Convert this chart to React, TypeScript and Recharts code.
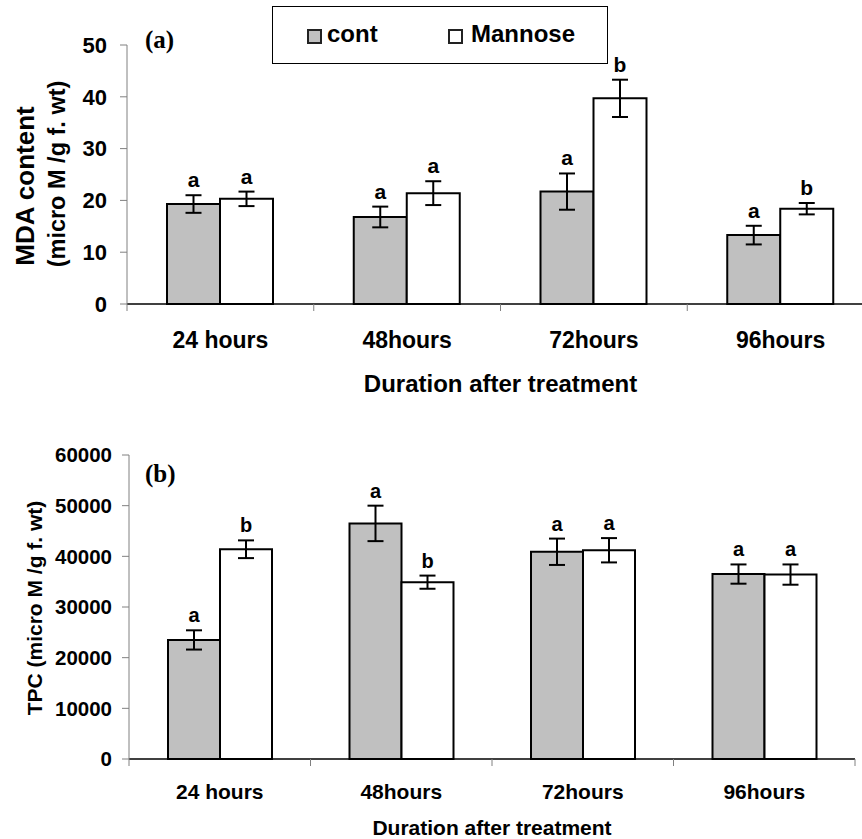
import React from "react"
import { BarChart, Bar, XAxis, YAxis, ErrorBar, LabelList, Label, Legend } from "recharts"

const categories = ["24 hours", "48hours", "72hours", "96hours"]

// (a) MDA content
const mdaCont = [19.3, 16.8, 21.7, 13.3]
const mdaContErr = [1.7, 2.0, 3.5, 1.8]
const mdaContSig = ["a", "a", "a", "a"]
const mdaMannose = [20.3, 21.4, 39.7, 18.4]
const mdaMannoseErr = [1.4, 2.3, 3.6, 1.1]
const mdaMannoseSig = ["a", "a", "b", "b"]
const mdaTicks = [0, 10, 20, 30, 40, 50]

// (b) TPC
const tpcCont = [23500, 46500, 40900, 36500]
const tpcContErr = [1900, 3500, 2600, 1900]
const tpcContSig = ["a", "a", "a", "a"]
const tpcMannose = [41400, 34900, 41200, 36400]
const tpcMannoseErr = [1750, 1300, 2400, 2000]
const tpcMannoseSig = ["b", "b", "a", "a"]
const tpcTicks = [0, 10000, 20000, 30000, 40000, 50000, 60000]

const FONT = '"Liberation Sans", Arial, sans-serif'
const SERIF = '"Liberation Serif", "Times New Roman", serif'
const GREY = "#c0c0c0"

function buildRows(
  cont: number[], contErr: number[], contSig: string[],
  mannose: number[], mannoseErr: number[], mannoseSig: string[]
) {
  return categories.map((name, i) => ({
    name,
    cont: cont[i],
    contErr: contErr[i],
    contSig: contSig[i],
    mannose: mannose[i],
    mannoseErr: mannoseErr[i],
    mannoseSig: mannoseSig[i],
  }))
}

const mdaData = buildRows(mdaCont, mdaContErr, mdaContSig, mdaMannose, mdaMannoseErr, mdaMannoseSig)
const tpcData = buildRows(tpcCont, tpcContErr, tpcContSig, tpcMannose, tpcMannoseErr, tpcMannoseSig)

// letter sits just above the error bar cap
function sigLabel(values: number[], errs: number[], fontSize: number) {
  return (props: any) => {
    const { x, y, width, height, value, index } = props
    const pxPerUnit = Number(height) / values[index]
    const top = Number(y) - errs[index] * pxPerUnit
    return (
      <text
        key={`sig-${index}`}
        x={Number(x) + Number(width) / 2}
        y={top - 8}
        textAnchor="middle"
        fontFamily={FONT}
        fontWeight="bold"
        fontSize={fontSize}
        fill="#000"
      >
        {value}
      </text>
    )
  }
}

// category label at the band centre, tick marks at the band edges
function categoryTick(band: number, fontSize: number, dy: number) {
  return (props: any) => {
    const { x, y, payload, index } = props
    const last = index === categories.length - 1
    return (
      <g>
        <line x1={x - band / 2} x2={x - band / 2} y1={y} y2={y + 7} stroke="#808080" />
        {last && <line x1={x + band / 2} x2={x + band / 2} y1={y} y2={y + 7} stroke="#808080" />}
        <text
          x={x}
          y={y + dy}
          textAnchor="middle"
          dominantBaseline="central"
          fontFamily={FONT}
          fontWeight="bold"
          fontSize={fontSize}
          fill="#000"
        >
          {payload.value}
        </text>
      </g>
    )
  }
}

function axisTitle(text: string, dy: number, fontSize: number) {
  return (props: any) => {
    const vb = props.viewBox || {}
    return (
      <text
        x={vb.x + vb.width / 2}
        y={vb.y + dy}
        textAnchor="middle"
        dominantBaseline="central"
        fontFamily={FONT}
        fontWeight="bold"
        fontSize={fontSize}
        fill="#000"
      >
        {text}
      </text>
    )
  }
}

function LegendBox() {
  const sq = (fill: string, left: number) => (
    <div
      style={{
        position: "absolute", left, top: 22, width: 15, height: 15,
        boxSizing: "border-box", border: "2px solid #222", background: fill,
      }}
    />
  )
  const txt = (label: string, left: number) => (
    <div
      style={{
        position: "absolute", left, top: 12, fontFamily: FONT, fontWeight: "bold",
        fontSize: 24, lineHeight: "30px", color: "#000",
      }}
    >
      {label}
    </div>
  )
  return (
    <div
      style={{
        position: "relative", width: 336, height: 58, boxSizing: "border-box",
        border: "1.5px solid #000", background: "#fff",
      }}
    >
      {sq(GREY, 34)}
      {txt("cont", 54)}
      {sq("#fff", 175)}
      {txt("Mannose", 198)}
    </div>
  )
}

const rotText = (text: string, cx: number, cy: number, size: number) => (
  <text
    x={cx}
    y={cy}
    transform={`rotate(-90, ${cx}, ${cy})`}
    textAnchor="middle"
    dominantBaseline="central"
    fontFamily={FONT}
    fontWeight="bold"
    fontSize={size}
    fill="#000"
  >
    {text}
  </text>
)

export default function App() {
  return (
    <div style={{ position: "absolute", left: 0, top: 0, width: 862, height: 839, background: "#fff", overflow: "hidden" }}>
      {/* (a) */}
      <div style={{ position: "absolute", left: 0, top: 0, width: 862, height: 400, overflow: "hidden" }}>
        <BarChart
          width={880}
          height={400}
          data={mdaData}
          margin={{ top: 45, right: 6, bottom: 0, left: 0 }}
          barGap={0}
        >
          <XAxis
            dataKey="name"
            height={96}
            interval={0}
            tickLine={false}
            tickSize={0}
            tickMargin={0}
            axisLine={{ stroke: "#000", strokeWidth: 1.5 }}
            tick={categoryTick(186.75, 23, 36)}
          >
            <Label content={axisTitle("Duration after treatment", 79, 24)} />
          </XAxis>
          <YAxis
            width={127}
            domain={[0, 50]}
            ticks={mdaTicks}
            interval={0}
            stroke="#808080"
            tickSize={7}
            tickMargin={13}
            tick={{ fill: "#000", fontSize: 22, fontWeight: "bold", fontFamily: FONT }}
          >
            <Label
              content={() => (
                <g>
                  {rotText("MDA content", 25, 186, 26)}
                  {rotText("(micro M /g f. wt)", 57, 174, 23.5)}
                  <text x={145} y={48} fontFamily={SERIF} fontWeight="bold" fontSize={25} fill="#000">(a)</text>
                </g>
              )}
            />
          </YAxis>
          <Legend
            layout="vertical"
            align="center"
            verticalAlign="middle"
            wrapperStyle={{ left: 272, top: 6, width: 336, height: 58 }}
            content={() => <LegendBox />}
          />
          <Bar dataKey="cont" name="cont" fill={GREY} stroke="#000" strokeWidth={2} barSize={53} isAnimationActive={false}>
            <ErrorBar dataKey="contErr" direction="y" width={8} stroke="#000" strokeWidth={2} isAnimationActive={false} />
            <LabelList dataKey="contSig" content={sigLabel(mdaCont, mdaContErr, 21)} />
          </Bar>
          <Bar dataKey="mannose" name="Mannose" fill="#fff" stroke="#000" strokeWidth={2} barSize={53} isAnimationActive={false}>
            <ErrorBar dataKey="mannoseErr" direction="y" width={8} stroke="#000" strokeWidth={2} isAnimationActive={false} />
            <LabelList dataKey="mannoseSig" content={sigLabel(mdaMannose, mdaMannoseErr, 21)} />
          </Bar>
        </BarChart>
      </div>

      {/* (b) */}
      <div style={{ position: "absolute", left: 0, top: 400, width: 862, height: 439, overflow: "hidden" }}>
        <BarChart
          width={862}
          height={439}
          data={tpcData}
          margin={{ top: 55, right: 7, bottom: 0, left: 0 }}
          barGap={0}
        >
          <XAxis
            dataKey="name"
            height={80}
            interval={0}
            tickLine={false}
            tickSize={0}
            tickMargin={0}
            axisLine={{ stroke: "#000", strokeWidth: 1.5 }}
            tick={categoryTick(181.5, 21, 32)}
          >
            <Label content={axisTitle("Duration after treatment", 68, 21)} />
          </XAxis>
          <YAxis
            width={129}
            domain={[0, 60000]}
            ticks={tpcTicks}
            interval={0}
            stroke="#808080"
            tickSize={7}
            tickMargin={10}
            tick={{ fill: "#000", fontSize: 20.5, fontWeight: "bold", fontFamily: FONT }}
          >
            <Label
              content={() => (
                <g>
                  {rotText("TPC (micro M /g f. wt)", 34, 208, 21)}
                  <text x={145} y={82} fontFamily={SERIF} fontWeight="bold" fontSize={25} fill="#000">(b)</text>
                </g>
              )}
            />
          </YAxis>
          <Bar dataKey="cont" name="cont" fill={GREY} stroke="#000" strokeWidth={2} barSize={52} isAnimationActive={false}>
            <ErrorBar dataKey="contErr" direction="y" width={8} stroke="#000" strokeWidth={2} isAnimationActive={false} />
            <LabelList dataKey="contSig" content={sigLabel(tpcCont, tpcContErr, 20)} />
          </Bar>
          <Bar dataKey="mannose" name="Mannose" fill="#fff" stroke="#000" strokeWidth={2} barSize={52} isAnimationActive={false}>
            <ErrorBar dataKey="mannoseErr" direction="y" width={8} stroke="#000" strokeWidth={2} isAnimationActive={false} />
            <LabelList dataKey="mannoseSig" content={sigLabel(tpcMannose, tpcMannoseErr, 20)} />
          </Bar>
        </BarChart>
      </div>
    </div>
  )
}
